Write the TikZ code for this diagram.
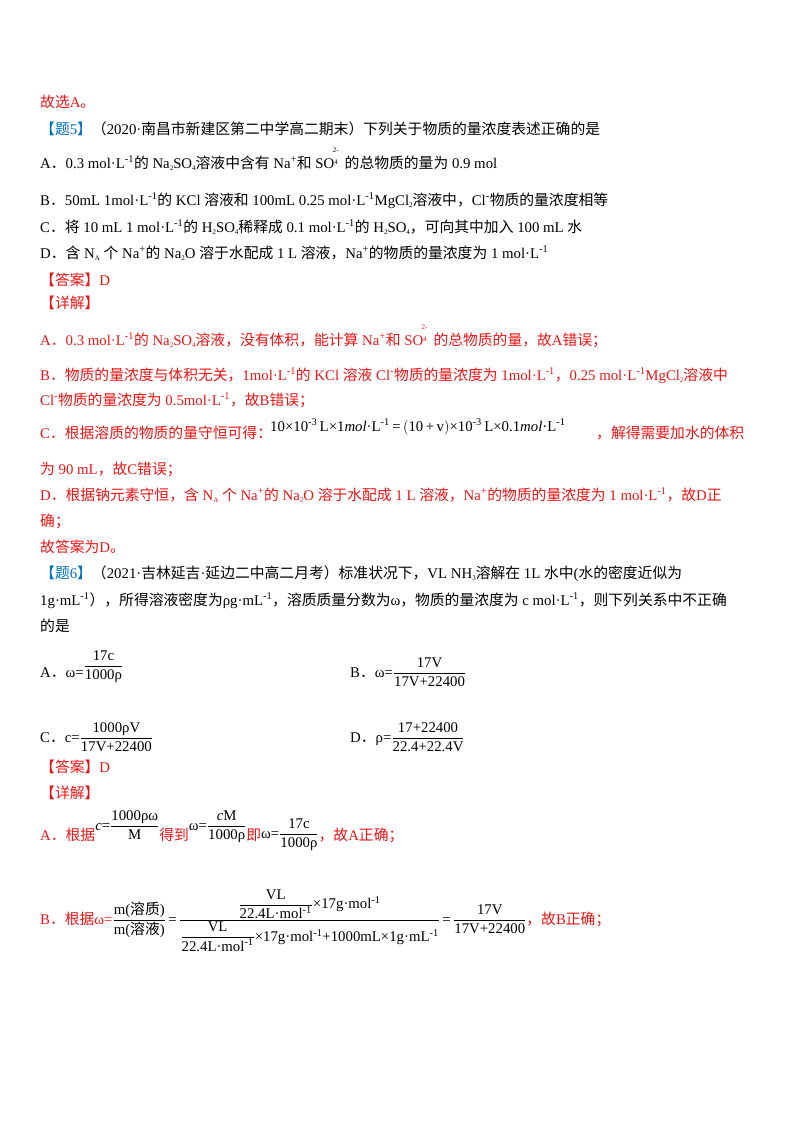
\documentclass[tikz,border=0pt]{standalone}
\usepackage{fontspec}
\setmainfont{Liberation Serif}
\newfontfamily\cjk{Noto Sans CJK SC}
\newcount\cc
\newcommand\setcls[2]{\cc=#1\relax\loop\XeTeXcharclass\cc=1\relax\ifnum\cc<#2\advance\cc by 1\repeat}
\setcls{"4E00}{"9FFF}
\setcls{"3000}{"303F}
\setcls{"FF00}{"FFEF}
\XeTeXinterchartokenstate=1
\XeTeXinterchartoks 0 1 = {\begingroup\cjk}
\XeTeXinterchartoks 4095 1 = {\begingroup\cjk}
\XeTeXinterchartoks 1 0 = {\endgroup}
\XeTeXinterchartoks 1 4095 = {\endgroup}
\definecolor{rd}{RGB}{235,20,20}
\definecolor{bl}{RGB}{0,112,192}
\newcommand\up[1]{\textsuperscript{#1}}
\newcommand\dn[1]{\raisebox{-2pt}{\scriptsize #1}}
\newcommand\SOf{SO\raisebox{4pt}{\scriptsize 4}\hspace{-5pt}\raisebox{16pt}{\scriptsize 2-}\hspace{6pt}}
\newcommand\mfr[2]{$\displaystyle\frac{\hbox{#1}}{\hbox{#2}}$}
\begin{document}
\begin{tikzpicture}[x=1pt,y=1pt,
  t/.style={anchor=base west,inner sep=0pt,font=\fontsize{14.8}{16}\selectfont},
  r/.style={t,text=rd}]
\useasboundingbox (0,0) rectangle (800,-1132);
\node[r] (l1) at (40,-107) {故选A。};
\node[t] (l2) at (40,-134) {\textcolor{bl}{【题5】}（2020·南昌市新建区第二中学高二期末）下列关于物质的量浓度表述正确的是};
\node[t] (l3) at (40,-168) {A．0.3 mol·L\up{-1}的 Na\dn{2}SO\dn{4}溶液中含有 Na\up{+}和 \SOf 的总物质的量为 0.9 mol};
\node[t] (l4) at (40,-205) {B．50mL 1mol·L\up{-1}的 KCl 溶液和 100mL 0.25 mol·L\up{-1}MgCl\dn{2}溶液中，Cl\up{-}物质的量浓度相等};
\node[t] (l5) at (40,-232) {C．将 10 mL 1 mol·L\up{-1}的 H\dn{2}SO\dn{4}稀释成 0.1 mol·L\up{-1}的 H\dn{2}SO\dn{4}，可向其中加入 100 mL 水};
\node[t] (l6) at (40,-258) {D．含 N\dn{A} 个 Na\up{+}的 Na\dn{2}O 溶于水配成 1 L 溶液，Na\up{+}的物质的量浓度为 1 mol·L\up{-1}};
\node[r] (l7) at (40,-285) {【答案】D};
\node[r] (l8) at (40,-308) {【详解】};
\node[r] (l9) at (40,-345) {A．0.3 mol·L\up{-1}的 Na\dn{2}SO\dn{4}溶液，没有体积，能计算 Na\up{+}和 \SOf 的总物质的量，故A错误；};
\node[r] (l10) at (40,-380) {B．物质的量浓度与体积无关，1mol·L\up{-1}的 KCl 溶液 Cl\up{-}物质的量浓度为 1mol·L\up{-1}，0.25 mol·L\up{-1}MgCl\dn{2}溶液中};
\node[r] (l11) at (40,-405) {Cl\up{-}物质的量浓度为 0.5mol·L\up{-1}，故B错误；};
\node[r] (l12) at (40,-438) {C．根据溶质的物质的量守恒可得：};
\node[t] (eqc) at (270,-431) {10×10\up{-3}\,L×1\textit{mol}·L\up{-1}\,=\,$\bigl($10\,+\,v$\bigr)$×10\up{-3}\,L×0.1\textit{mol}·L\up{-1}};
\node[r] (l12b) at (596,-438) {，解得需要加水的体积};
\node[r] (l13) at (40,-474) {为 90 mL，故C错误；};
\node[r] (l14) at (40,-500) {D．根据钠元素守恒，含 N\dn{A} 个 Na\up{+}的 Na\dn{2}O 溶于水配成 1 L 溶液，Na\up{+}的物质的量浓度为 1 mol·L\up{-1}，故D正};
\node[r] (l15) at (40,-526) {确；};
\node[r] (l16) at (40,-552) {故答案为D。};
\node[t] (l17) at (40,-578) {\textcolor{bl}{【题6】}（2021·吉林延吉·延边二中高二月考）标准状况下，VL NH\dn{3}溶解在 1L 水中(水的密度近似为};
\node[t] (l18) at (40,-605) {1g·mL\up{-1}），所得溶液密度为ρg·mL\up{-1}，溶质质量分数为ω，物质的量浓度为 c mol·L\up{-1}，则下列关系中不正确};
\node[t] (l19) at (40,-631) {的是};
\node[t] (o6a) at (40,-677) {A．ω=\raisebox{7pt}{\mfr{17c}{1000ρ}}};
\node[t] (o6b) at (350,-677) {B．ω=\mfr{17V}{17V+22400}};
\node[t] (o6c) at (40,-742) {C．c=\mfr{1000ρV}{17V+22400}};
\node[t] (o6d) at (350,-742) {D．ρ=\mfr{17+22400}{22.4+22.4V}};
\node[r] (l20) at (40,-772) {【答案】D};
\node[r] (l21) at (40,-798) {【详解】};
\node[r] (l22) at (40,-840) {A．根据\textcolor{black}{\raisebox{10pt}{\textit{c}=\mfr{1000ρω}{M}}}得到\textcolor{black}{\raisebox{10pt}{ω=\mfr{\textit{c}M}{1000ρ}}}即\textcolor{black}{\raisebox{2pt}{ω=\mfr{17c}{1000ρ}}}，故A正确；};
\node[r] (l23) at (40,-924) {B．根据ω=\textcolor{black}{\mfr{m(溶质)}{m(溶液)}\,=\,$\displaystyle\frac{\hbox{\mfr{VL}{22.4L·mol\up{-1}}×17g·mol\up{-1}}}{\hbox{\mfr{VL}{22.4L·mol\up{-1}}×17g·mol\up{-1}+1000mL×1g·mL\up{-1}}}$\,=\,\mfr{17V}{17V+22400}}，故B正确；};
\end{tikzpicture}
\end{document}
